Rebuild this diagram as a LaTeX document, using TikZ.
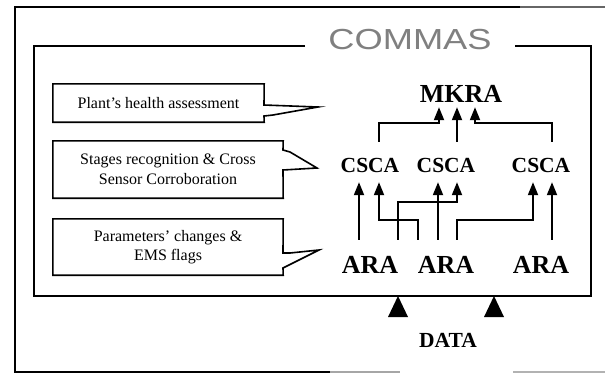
\documentclass[tikz,border=0pt]{standalone}
\usepackage{fontspec}
\setmainfont{Liberation Serif}
\newfontfamily\titlesans{Liberation Sans}
\usetikzlibrary{arrows.meta}

\begin{document}
\begin{tikzpicture}[x=1pt,y=-1pt,
  frame/.style={line width=2pt},
  callout/.style={line width=1.6pt},
  note/.style={font=\fontsize{16}{19.5}\selectfont, align=center, inner sep=0pt},
  bigagent/.style={font=\bfseries\fontsize{26}{28}\selectfont, inner sep=0pt,
    anchor=base, text height=17pt, text depth=0pt},
  smallagent/.style={font=\bfseries\fontsize{21.5}{24}\selectfont, inner sep=0pt,
    anchor=base, text height=14pt, text depth=0pt},
  flow/.style={line width=2pt, -{Triangle[length=13pt,width=10pt]}},
]
\useasboundingbox (0,0) rectangle (605,373);

% outer frame (open on the right)
\draw[frame] (520,7) -- (15,7) -- (15,372) -- (330,372);
\draw[frame, black!60] (520,7) -- (605,7);
\draw[frame, black!35] (330,372) -- (400,372);
\draw[frame, black!30] (513,372) -- (605,372);

% system title and its frame
\node[font=\titlesans\fontsize{29}{30}\selectfont, text=black!50, inner sep=0pt,
  anchor=base] (title) at (410,49) {\scalebox{1.25}[1]{COMMAS}};
\draw[frame] (305,46) -- (34,46) -- (34,296) -- (591,296) -- (591,46) -- (515,46);

% callouts describing each layer
\node[note, minimum width=211pt, minimum height=38pt] (n1) at (158.5,103)
  {Plant’s health assessment};
\draw[callout] (n1.north east) -- (n1.north west) -- (n1.south west) -- (n1.south east)
  -- (264,116) -- (273,115) -- (318,107) -- (264,105) -- cycle;

\node[note, minimum width=230pt, minimum height=57pt] (n2) at (168,169.5)
  {Stages recognition \& Cross\\Sensor Corroboration};
\draw[callout] (n2.north east) -- (n2.north west) -- (n2.south west) -- (n2.south east)
  -- (283,170) -- (317,168) -- (290,152) -- (283,150) -- cycle;

\node[note, minimum width=230pt, minimum height=56pt] (n3) at (168,247)
  {Parameters’ changes \&\\EMS flags};
\draw[callout] (n3.north east) -- (n3.north west) -- (n3.south west) -- (n3.south east)
  -- (283,268) -- (319,250) -- (290,253) -- (283,253) -- cycle;

% agents
\node[bigagent] (mkra) at (461,102) {MKRA};
\node[smallagent] (csca1) at (370,172) {CSCA};
\node[smallagent] (csca2) at (446,172) {CSCA};
\node[smallagent] (csca3) at (541,172) {CSCA};
\node[bigagent] (ara1) at (370,273) {ARA};
\node[bigagent] (ara2) at (446,273) {ARA};
\node[bigagent] (ara3) at (541,273) {ARA};

% CSCA -> MKRA
\draw[flow] ([xshift=9pt,yshift=16pt]csca1.north)
  |- ([xshift=-22pt,yshift=-21pt]mkra.south) -- ([xshift=-22pt,yshift=-5pt]mkra.south);
\draw[flow] ([xshift=11pt,yshift=16pt]csca2.north) -- ([xshift=-4pt,yshift=-5pt]mkra.south);
\draw[flow] ([xshift=11pt,yshift=16pt]csca3.north)
  |- ([xshift=14pt,yshift=-21pt]mkra.south) -- ([xshift=14pt,yshift=-5pt]mkra.south);

% ARA -> CSCA
\draw[flow] ([xshift=-11pt,yshift=16pt]ara1.north) -- ([xshift=-11pt,yshift=-10pt]csca1.south);
\draw[flow] ([xshift=28pt,yshift=16pt]ara1.north)
  |- ([xshift=11pt,yshift=-30pt]csca2.south) -- ([xshift=11pt,yshift=-10pt]csca2.south);
\draw[flow] ([xshift=-28pt,yshift=16pt]ara2.north)
  |- ([xshift=9pt,yshift=-48pt]csca1.south) -- ([xshift=9pt,yshift=-10pt]csca1.south);
\draw[flow] ([xshift=-8pt,yshift=16pt]ara2.north) -- ([xshift=-8pt,yshift=-10pt]csca2.south);
\draw[flow] ([xshift=11pt,yshift=16pt]ara2.north)
  |- ([xshift=-8pt,yshift=-48pt]csca3.south) -- ([xshift=-8pt,yshift=-10pt]csca3.south);
\draw[flow] ([xshift=11pt,yshift=16pt]ara3.north) -- ([xshift=11pt,yshift=-10pt]csca3.south);

% data inputs
\fill (398,296) -- (408,317) -- (388,317) -- cycle;
\fill (494,296) -- (504,317) -- (484,317) -- cycle;
\node[font=\bfseries\fontsize{21.5}{24}\selectfont, inner sep=0pt, anchor=base] (data)
  at (448,347) {DATA};
\end{tikzpicture}
\end{document}
